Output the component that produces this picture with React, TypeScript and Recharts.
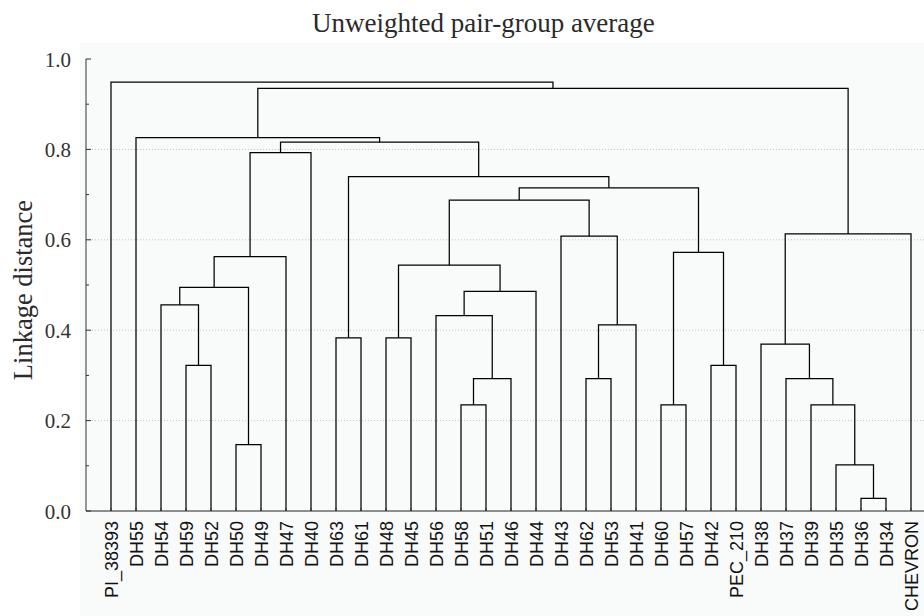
import React from 'react';
import { LineChart, Line, XAxis, YAxis, ReferenceLine } from 'recharts';

// leaves in dendrogram order (left to right)
const leafLabels = [
  'PI_38393', 'DH55', 'DH54', 'DH59', 'DH52', 'DH50', 'DH49', 'DH47', 'DH40',
  'DH63', 'DH61', 'DH48', 'DH45', 'DH56', 'DH58', 'DH51', 'DH46', 'DH44',
  'DH43', 'DH62', 'DH53', 'DH41', 'DH60', 'DH57', 'DH42', 'PEC_210',
  'DH38', 'DH37', 'DH39', 'DH35', 'DH36', 'DH34', 'CHEVRON',
];

// merges: [left child, right child, linkage distance]; merge k is named C{k+1}
const merges: [string, string, number][] = [
  ['DH36', 'DH34', 0.028],
  ['DH35', 'C1', 0.102],
  ['DH50', 'DH49', 0.147],
  ['DH58', 'DH51', 0.235],
  ['DH60', 'DH57', 0.235],
  ['DH39', 'C2', 0.235],
  ['C4', 'DH46', 0.293],
  ['DH62', 'DH53', 0.293],
  ['DH37', 'C6', 0.293],
  ['DH59', 'DH52', 0.322],
  ['DH42', 'PEC_210', 0.322],
  ['DH38', 'C9', 0.369],
  ['DH63', 'DH61', 0.383],
  ['DH48', 'DH45', 0.383],
  ['C8', 'DH41', 0.412],
  ['DH56', 'C7', 0.432],
  ['DH54', 'C10', 0.456],
  ['C16', 'DH44', 0.486],
  ['C17', 'C3', 0.495],
  ['C14', 'C18', 0.544],
  ['C19', 'DH47', 0.563],
  ['C5', 'C11', 0.572],
  ['DH43', 'C15', 0.608],
  ['C12', 'CHEVRON', 0.613],
  ['C20', 'C23', 0.688],
  ['C25', 'C22', 0.715],
  ['C13', 'C26', 0.740],
  ['C21', 'DH40', 0.793],
  ['C28', 'C27', 0.816],
  ['DH55', 'C29', 0.826],
  ['C30', 'C24', 0.935],
  ['PI_38393', 'C31', 0.949],
];

const yTicks = [0, 0.1, 0.2, 0.3, 0.4, 0.5, 0.6, 0.7, 0.8, 0.9, 1.0];
const gridValues = [0.2, 0.4, 0.6, 0.8];

const PLOT_LEFT = 86;
const PLOT_TOP = 59;
const PLOT_BOTTOM = 511;
const SERIF = '"Liberation Serif", "Times New Roman", serif';

// node positions: leaves at their index, clusters at the midpoint of their children
const nodes: Record<string, { x: number; h: number }> = {};
leafLabels.forEach((name, i) => {
  nodes[name] = { x: i, h: 0 };
});
const links = merges.map(([a, b, h], k) => {
  const l = nodes[a];
  const r = nodes[b];
  nodes[`C${k + 1}`] = { x: (l.x + r.x) / 2, h };
  return [
    { x: l.x, y: l.h },
    { x: l.x, y: h },
    { x: r.x, y: h },
    { x: r.x, y: r.h },
  ];
});
const leafTicks = leafLabels.map((_, i) => i);

const YTick = (props: any) => {
  const { y, payload } = props;
  const major = Math.round(payload.value * 10) % 2 === 0;
  return (
    <g>
      <line x1={PLOT_LEFT} x2={PLOT_LEFT + (major ? 5 : 3)} y1={y} y2={y} stroke="#333" />
      {major && (
        <text x={71} y={y} dy="0.36em" textAnchor="end" fontFamily={SERIF} fontSize={21} fill="#333">
          {payload.value.toFixed(1)}
        </text>
      )}
    </g>
  );
};

const TopTick = (props: any) => {
  const { x } = props;
  return <line x1={x} x2={x} y1={PLOT_TOP} y2={PLOT_TOP + 3} stroke="#333" />;
};

const LeafTick = (props: any) => {
  const { x, payload } = props;
  const ty = PLOT_BOTTOM + 10;
  return (
    <g>
      <line x1={x} x2={x} y1={PLOT_BOTTOM} y2={PLOT_BOTTOM - 3} stroke="#333" />
      <text
        x={x + 1}
        y={ty}
        dy="0.36em"
        transform={`rotate(-90, ${x + 1}, ${ty})`}
        textAnchor="end"
        fontFamily='"Liberation Sans", Arial, sans-serif'
        fontSize={18}
        fill="#111"
      >
        {leafLabels[payload.value]}
      </text>
    </g>
  );
};

const App: React.FC = () => {
  return (
    <div style={{ position: 'fixed', left: 0, top: 0, width: 924, height: 616, overflow: 'hidden', background: '#fff' }}>
      <div style={{ position: 'absolute', left: 80, top: 43, right: 0, bottom: 0, background: '#f9fafa' }} />
      <div style={{ position: 'absolute', left: 0, top: 0 }}>
        <LineChart width={924} height={616} margin={{ top: PLOT_TOP, right: 0, bottom: 0, left: 0 }}>
          <XAxis
            xAxisId="top"
            orientation="top"
            type="number"
            dataKey="x"
            domain={[-1, 32.52]}
            ticks={leafTicks}
            height={0}
            tickLine={false}
            tick={<TopTick />}
            axisLine={{ stroke: '#333' }}
            allowDataOverflow
          />
          <XAxis
            xAxisId="bottom"
            type="number"
            dataKey="x"
            domain={[-1, 32.52]}
            ticks={leafTicks}
            height={105}
            tickLine={false}
            tick={<LeafTick />}
            axisLine={{ stroke: '#222' }}
            interval={0}
            allowDataOverflow
          />
          <YAxis
            type="number"
            domain={[0, 1]}
            ticks={yTicks}
            width={PLOT_LEFT}
            tickLine={false}
            tick={<YTick />}
            axisLine={{ stroke: '#333' }}
            interval={0}
          />
          {gridValues.map((v) => (
            <ReferenceLine key={v} xAxisId="bottom" y={v} stroke="#c4c4c4" strokeDasharray="1 2" />
          ))}
          {links.map((pts, i) => (
            <Line
              key={i}
              xAxisId="bottom"
              data={pts}
              dataKey="y"
              type="linear"
              stroke="#000"
              strokeWidth={1.25}
              dot={false}
              activeDot={false}
              isAnimationActive={false}
            />
          ))}
        </LineChart>
      </div>
      <svg width={924} height={616} style={{ position: 'absolute', left: 0, top: 0, pointerEvents: 'none' }}>
        <text x={312} y={31.5} fontFamily={SERIF} fontSize={27} fill="#2a2a2a">
          Unweighted pair-group average
        </text>
        <text
          x={31.5}
          y={290}
          transform="rotate(-90, 31.5, 290)"
          textAnchor="middle"
          fontFamily={SERIF}
          fontSize={26.5}
          fill="#2a2a2a"
        >
          Linkage distance
        </text>
      </svg>
    </div>
  );
};

export default App;
